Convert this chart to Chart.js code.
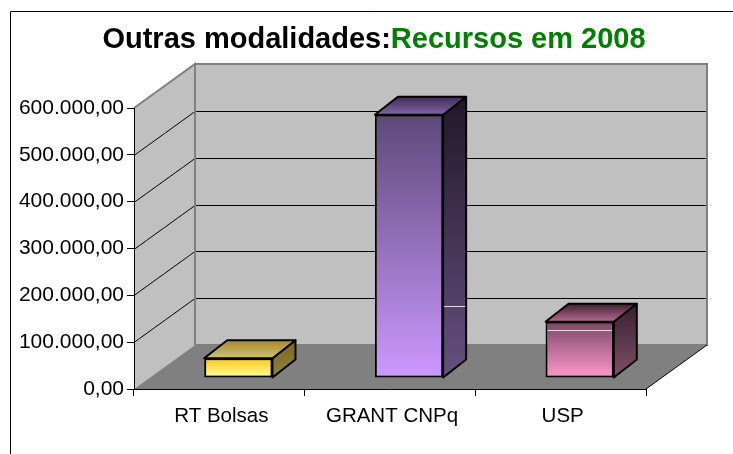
<!DOCTYPE html>
<html>
<head>
<meta charset="utf-8">
<style>
  html, body { margin: 0; padding: 0; background: #fff; }
  canvas { display: block; }
</style>
<script src="https://cdn.jsdelivr.net/npm/chart.js@4"></script>
</head>
<body>
<canvas id="chart" width="733" height="454"></canvas>
<script>
const categories = ['RT Bolsas', 'GRANT CNPq', 'USP'];
const recursos = [42000, 562000, 120000];
const yTicks = [0, 100000, 200000, 300000, 400000, 500000, 600000];
const titleBlack = 'Outras modalidades:';
const titleGreen = 'Recursos em 2008';

// thin pale streaks that show on two of the bars in the original
const streakSide = [null, 154000, null];
const streakFront = [null, null, 103000];

// front face, side face and top face colours (dark end, light end)
const frontColors = [['#ffc81e', '#ffff99'], ['#5e4878', '#cc99ff'], ['#7c4664', '#ff99cc']];
const sideColors = [['#7a6a1c', '#8c8240'], ['#201828', '#665080'], ['#382030', '#805068']];
const topColors = [['#a8882a', '#ccc478'], ['#3e2c58', '#8464a8'], ['#40222f', '#b86a92']];

// fake 3D: wall depth and how far the bars sit inside it
const wallX = 61, wallY = 44;
const barShiftX = 19, barShiftY = 11;
const barDepthX = 23, barDepthY = 18;

const FONT = '"Liberation Sans", Arial, sans-serif';

function vGrad(ctx, top, bottom, cols) {
  const g = ctx.createLinearGradient(0, top, 0, bottom);
  g.addColorStop(0, cols[0]);
  g.addColorStop(1, cols[1]);
  return g;
}

function poly(ctx, pts, fill, stroke, lw) {
  ctx.beginPath();
  pts.forEach((p, i) => i ? ctx.lineTo(p[0], p[1]) : ctx.moveTo(p[0], p[1]));
  ctx.closePath();
  if (fill) { ctx.fillStyle = fill; ctx.fill(); }
  if (stroke) { ctx.strokeStyle = stroke; ctx.lineWidth = lw; ctx.stroke(); }
}

function streak(ctx, x0, x1, y) {
  ctx.strokeStyle = '#e6d8e6';
  ctx.lineWidth = 1;
  ctx.beginPath();
  ctx.moveTo(x0, Math.round(y) + 0.5);
  ctx.lineTo(x1, Math.round(y) + 0.5);
  ctx.stroke();
}

const walls3d = {
  id: 'walls3d',
  beforeDraw(chart) {
    const { ctx, chartArea: a, scales } = chart;
    const l = a.left, r = a.right, t = a.top, b = a.bottom;
    ctx.save();
    // outer frame, only top and left show in the picture
    ctx.strokeStyle = '#000';
    ctx.lineWidth = 1;
    ctx.beginPath();
    ctx.moveTo(10.5, 454);
    ctx.lineTo(10.5, 11.5);
    ctx.lineTo(733, 11.5);
    ctx.stroke();

    poly(ctx, [[l + wallX, t - wallY], [r + wallX, t - wallY], [r + wallX, b - wallY], [l + wallX, b - wallY]], '#c0c0c0', '#808080', 2);
    poly(ctx, [[l, t], [l + wallX, t - wallY], [l + wallX, b - wallY], [l, b]], '#c0c0c0');
    poly(ctx, [[l, b], [l + wallX, b - wallY], [r + wallX, b - wallY], [r, b]], '#808080');

    ctx.strokeStyle = '#000';
    ctx.lineWidth = 1;
    yTicks.slice(1, -1).forEach(v => {
      const y = Math.round(scales.y.getPixelForValue(v)) + 0.5;
      ctx.beginPath();
      ctx.moveTo(l, y);
      ctx.lineTo(l + wallX, y - wallY);
      ctx.lineTo(r + wallX - 1, y - wallY);
      ctx.stroke();
    });
    ctx.strokeStyle = '#808080';
    ctx.lineWidth = 2;
    ctx.beginPath();
    ctx.moveTo(l, t);
    ctx.lineTo(l + wallX, t - wallY);
    ctx.lineTo(l + wallX, b - wallY);
    ctx.stroke();
    ctx.strokeStyle = '#000';
    ctx.lineWidth = 1;
    ctx.beginPath();
    ctx.moveTo(r, b);
    ctx.lineTo(r + wallX, b - wallY);
    ctx.stroke();
    ctx.restore();
  },
  beforeDatasetDraw(chart, args) {
    const { ctx, scales } = chart;
    ctx.save();
    ctx.translate(barShiftX, -barShiftY);
    args.meta.data.forEach((el, i) => {
      const x0 = el.x - el.width / 2, x1 = el.x + el.width / 2;
      const top = el.y, base = el.base;
      ctx.lineJoin = 'round';
      poly(ctx, [[x1, top], [x1 + barDepthX, top - barDepthY], [x1 + barDepthX, base - barDepthY], [x1, base]],
        vGrad(ctx, top - barDepthY, base, sideColors[i]), '#000', 2);
      poly(ctx, [[x0, top], [x0 + barDepthX, top - barDepthY], [x1 + barDepthX, top - barDepthY], [x1, top]],
        vGrad(ctx, top - barDepthY, top, topColors[i]), '#000', 2);
      if (streakSide[i] !== null) streak(ctx, x1 + 1, x1 + barDepthX - 1, scales.y.getPixelForValue(streakSide[i]));
    });
  },
  afterDatasetDraw(chart, args) {
    const { ctx, scales } = chart;
    args.meta.data.forEach((el, i) => {
      if (streakFront[i] !== null) streak(ctx, el.x - el.width / 2 + 2, el.x + el.width / 2 - 2, scales.y.getPixelForValue(streakFront[i]));
    });
    ctx.restore();
  },
  afterDraw(chart) {
    const { ctx } = chart;
    ctx.save();
    ctx.font = 'bold 29px ' + FONT;
    ctx.textBaseline = 'alphabetic';
    const w1 = ctx.measureText(titleBlack).width;
    const w2 = ctx.measureText(titleGreen).width;
    const x = 374 - (w1 + w2) / 2;
    ctx.fillStyle = '#000';
    ctx.fillText(titleBlack, x, 48);
    ctx.fillStyle = '#008000';
    ctx.fillText(titleGreen, x + w1, 48);
    ctx.restore();
  }
};

new Chart(document.getElementById('chart'), {
  type: 'bar',
  data: {
    labels: categories,
    datasets: [{
      label: 'Recursos',
      data: recursos,
      barPercentage: 0.4,
      categoryPercentage: 1,
      borderColor: '#000',
      borderWidth: 2,
      borderSkipped: false,
      backgroundColor: c => {
        const { chart, dataIndex } = c;
        if (!chart.scales.y || !chart.chartArea) return '#888';
        return vGrad(chart.ctx, chart.scales.y.getPixelForValue(recursos[dataIndex]), chart.scales.y.getPixelForValue(0), frontColors[dataIndex]);
      }
    }]
  },
  options: {
    responsive: false,
    animation: false,
    layout: { padding: { top: 108, right: 87, left: 0, bottom: 0 } },
    plugins: { legend: { display: false }, title: { display: false }, tooltip: { enabled: false } },
    scales: {
      x: {
        afterFit: s => { s.height = 65; },
        grid: { drawOnChartArea: false, tickLength: 7, color: '#000', offset: true },
        border: { color: '#000', width: 1 },
        ticks: { color: '#000', font: { family: FONT, size: 20.5 }, padding: 8, maxRotation: 0, labelOffset: 2 }
      },
      y: {
        min: 0,
        max: 600000,
        afterFit: s => { s.width = 134; },
        afterBuildTicks: s => { s.ticks = yTicks.map(v => ({ value: v })); },
        grid: { drawOnChartArea: false, tickLength: 7, color: '#000' },
        border: { color: '#000', width: 1 },
        ticks: {
          color: '#000',
          font: { family: FONT, size: 21 },
          padding: 3,
          callback: v => v.toLocaleString('pt-BR', { minimumFractionDigits: 2, maximumFractionDigits: 2 })
        }
      }
    }
  },
  plugins: [walls3d]
});
</script>
</body>
</html>
